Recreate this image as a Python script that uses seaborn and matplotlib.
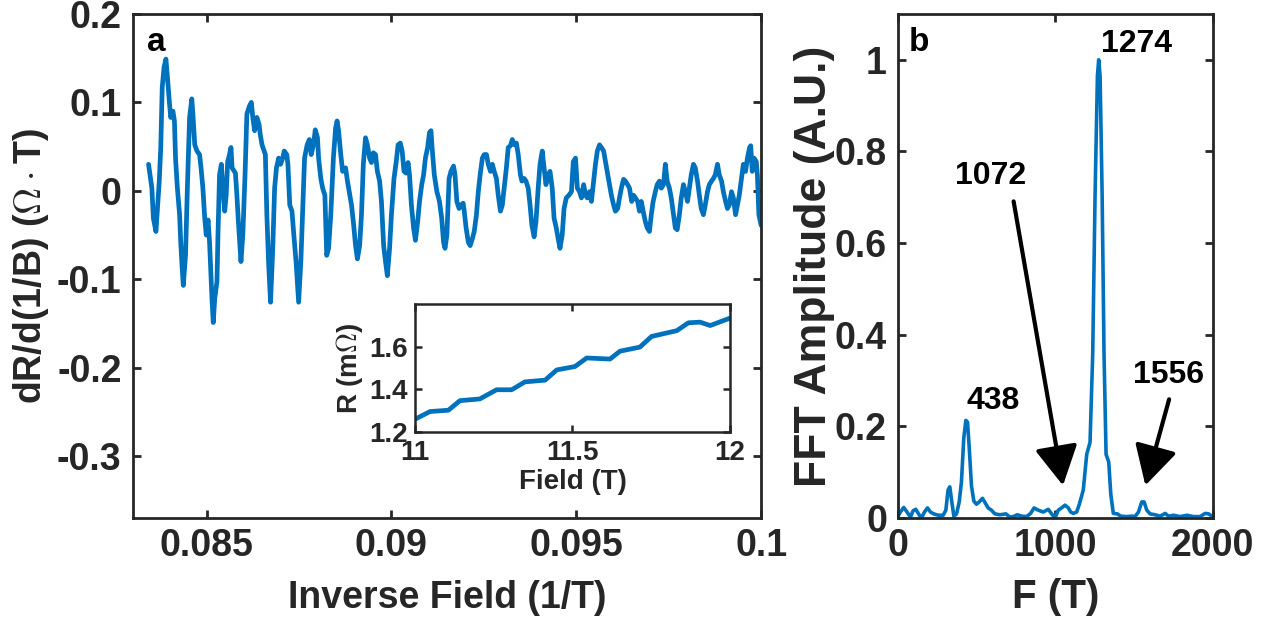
import matplotlib
matplotlib.use("Agg")
import matplotlib.pyplot as plt
from matplotlib.ticker import FuncFormatter
import numpy as np
import pandas as pd
import seaborn as sns

# ---------------- data ----------------
inv_field = [
    0.08343, 0.08352, 0.08356, 0.08363, 0.08367, 0.08372, 0.08376, 0.08380, 0.08385, 0.08390,
    0.08394, 0.08399, 0.08403, 0.08409, 0.08413, 0.08416, 0.08421, 0.08427, 0.08430, 0.08434,
    0.08437, 0.08443, 0.08448, 0.08454, 0.08460, 0.08463, 0.08468, 0.08474, 0.08481, 0.08485,
    0.08490, 0.08495, 0.08499, 0.08504, 0.08508, 0.08512, 0.08515, 0.08518, 0.08522, 0.08528,
    0.08531, 0.08535, 0.08540, 0.08544, 0.08549, 0.08553, 0.08557, 0.08562, 0.08566, 0.08569,
    0.08578, 0.08582, 0.08586, 0.08593, 0.08598, 0.08604, 0.08609, 0.08616, 0.08621, 0.08625,
    0.08630, 0.08636, 0.08642, 0.08645, 0.08650, 0.08659,
    0.08663, 0.08668, 0.08673, 0.08679, 0.08684, 0.08689, 0.08695, 0.08700, 0.08706, 0.08710,
    0.08717, 0.08720, 0.08725, 0.08731, 0.08736, 0.08742, 0.08749, 0.08755, 0.08760, 0.08765,
    0.08772, 0.08778, 0.08783, 0.08789, 0.08794, 0.08800, 0.08803, 0.08809, 0.08814, 0.08820,
    0.08825, 0.08830, 0.08836, 0.08843, 0.08849, 0.08853, 0.08857, 0.08863, 0.08868, 0.08876,
    0.08881, 0.08886, 0.08892, 0.08897, 0.08903, 0.08908, 0.08914, 0.08919, 0.08924, 0.08930,
    0.08935, 0.08941, 0.08946, 0.08951, 0.08957, 0.08962, 0.08968, 0.08973, 0.08979, 0.08984,
    0.08989, 0.08995, 0.09000,
    0.09007, 0.09013, 0.09018, 0.09024, 0.09029, 0.09034, 0.09040, 0.09045, 0.09049, 0.09054,
    0.09060, 0.09065, 0.09071, 0.09076, 0.09082, 0.09087, 0.09092, 0.09098, 0.09103, 0.09107,
    0.09110, 0.09116, 0.09123, 0.09130, 0.09136, 0.09141, 0.09145, 0.09150, 0.09156, 0.09161,
    0.09168, 0.09172, 0.09177, 0.09183, 0.09188, 0.09194, 0.09197, 0.09202, 0.09208, 0.09213,
    0.09219, 0.09224, 0.09230, 0.09235, 0.09240, 0.09246, 0.09251, 0.09257, 0.09262, 0.09268,
    0.09273, 0.09278, 0.09284, 0.09289, 0.09295, 0.09300, 0.09305, 0.09311, 0.09316, 0.09322,
    0.09327, 0.09333, 0.09338, 0.09343, 0.09349,
    0.09353, 0.09359, 0.09364, 0.09370, 0.09375, 0.09380, 0.09386, 0.09391, 0.09397, 0.09402,
    0.09408, 0.09413, 0.09418, 0.09424, 0.09429, 0.09435, 0.09440, 0.09446, 0.09451, 0.09456,
    0.09462, 0.09467, 0.09473, 0.09480, 0.09487, 0.09492, 0.09498, 0.09503, 0.09509, 0.09514,
    0.09520, 0.09525, 0.09530, 0.09536, 0.09541, 0.09547, 0.09552, 0.09557, 0.09563, 0.09568,
    0.09574, 0.09579, 0.09585, 0.09590, 0.09595, 0.09601, 0.09606, 0.09612, 0.09617, 0.09622,
    0.09628, 0.09633, 0.09639, 0.09644, 0.09650, 0.09655, 0.09660, 0.09666, 0.09671,
    0.09676, 0.09681, 0.09687, 0.09692, 0.09698, 0.09703, 0.09708, 0.09714, 0.09719, 0.09725,
    0.09730, 0.09736, 0.09741, 0.09746, 0.09752, 0.09757, 0.09763, 0.09768, 0.09773, 0.09779,
    0.09784, 0.09790, 0.09795, 0.09801, 0.09806, 0.09811, 0.09817, 0.09822, 0.09828, 0.09833,
    0.09838, 0.09844, 0.09849, 0.09855, 0.09860, 0.09866, 0.09871, 0.09876, 0.09882, 0.09887,
    0.09893, 0.09898, 0.09904, 0.09909, 0.09914, 0.09920, 0.09925, 0.09931, 0.09936, 0.09941,
    0.09947, 0.09952, 0.09958, 0.09963, 0.09969, 0.09972, 0.09976, 0.09981, 0.09987, 0.09990,
    0.09994, 0.09998, 0.10000,
]
dR_dinvB = [
    0.030, 0.003, -0.031, -0.046, -0.020, 0.011, 0.049, 0.117, 0.140, 0.149,
    0.129, 0.102, 0.083, 0.090, 0.079, 0.037, 0.003, -0.027, -0.058, -0.088,
    -0.107, -0.073, 0.003, 0.083, 0.104, 0.087, 0.052, 0.045, 0.041, 0.026,
    0.003, -0.031, -0.050, -0.033, -0.058, -0.096, -0.126, -0.149, -0.122, -0.103,
    -0.046, 0.018, 0.030, 0.003, -0.023, -0.005, 0.033, 0.041, 0.049, 0.026,
    0.020, -0.005, -0.035, -0.080, -0.050, 0.018, 0.087, 0.096, 0.100, 0.083,
    0.068, 0.083, 0.075, 0.064, 0.052, 0.041,
    -0.027, -0.084, -0.126, -0.065, 0.003, 0.026, 0.037, 0.030, 0.037, 0.045,
    0.041, 0.030, -0.016, -0.023, -0.050, -0.080, -0.126, -0.080, -0.020, 0.037,
    0.052, 0.058, 0.041, 0.052, 0.069, 0.060, 0.037, 0.014, 0.003, -0.005,
    -0.073, -0.065, -0.027, 0.037, 0.071, 0.079, 0.068, 0.041, 0.022, 0.026,
    0.011, -0.001, -0.016, -0.035, -0.062, -0.077, -0.062, -0.027, 0.030, 0.060,
    0.052, 0.037, 0.032, 0.043, 0.041, 0.022, 0.011, -0.012, -0.062, -0.080,
    -0.096, -0.065, -0.027,
    0.014, 0.033, 0.052, 0.054, 0.045, 0.022, 0.020, 0.032, 0.018, -0.016,
    -0.042, -0.056, -0.035, -0.012, 0.007, 0.018, 0.037, 0.049, 0.066, 0.068,
    0.049, 0.018, -0.001, -0.012, -0.031, -0.058, -0.065, -0.050, 0.014, 0.022,
    0.028, 0.018, -0.012, -0.020, -0.016, -0.014, -0.023, -0.042, -0.058, -0.062,
    -0.054, -0.046, -0.027, -0.001, 0.018, 0.037, 0.041, 0.041, 0.030, 0.022,
    0.030, 0.022, 0.014, -0.005, -0.023, -0.016, 0.003, 0.026, 0.049, 0.051,
    0.058, 0.052, 0.054, 0.041, 0.018,
    0.011, 0.014, 0.011, 0.003, -0.016, -0.039, -0.052, -0.035, 0.003, 0.030,
    0.045, 0.026, 0.007, 0.018, 0.022, 0.003, -0.031, -0.042, -0.054, -0.065,
    -0.050, -0.020, -0.008, -0.005, -0.001, 0.033, 0.037, 0.003, -0.001, -0.008,
    0.007, -0.005, -0.008, -0.001, -0.012, 0.011, 0.030, 0.045, 0.052, 0.049,
    0.045, 0.033, 0.018, 0.007, -0.005, -0.016, -0.023, -0.020, -0.008, 0.003,
    0.013, 0.011, 0.007, 0.003, -0.012, -0.005, -0.008, -0.012, -0.023,
    -0.012, -0.023, -0.035, -0.042, -0.046, -0.027, -0.012, -0.001, 0.007, 0.011,
    0.003, 0.007, 0.030, 0.011, 0.003, -0.008, -0.027, -0.042, -0.044, -0.027,
    -0.008, 0.007, -0.001, -0.012, 0.003, 0.018, 0.030, 0.026, 0.011, -0.005,
    -0.020, -0.027, -0.016, -0.001, 0.007, 0.011, 0.014, 0.018, 0.030, 0.018,
    0.011, -0.001, -0.012, -0.020, -0.016, -0.001, -0.008, -0.027, -0.016, -0.005,
    0.014, 0.030, 0.022, 0.037, 0.049, 0.051, 0.022, 0.037, 0.033, 0.018,
    -0.027, -0.035, -0.039,
]

field_T = [11.003, 11.048, 11.106, 11.143, 11.206, 11.259, 11.307, 11.349, 11.413, 11.450,
           11.508, 11.545, 11.619, 11.651, 11.714, 11.751, 11.831, 11.868, 11.905, 11.937, 12.0]
R_mOhm = [1.262, 1.296, 1.302, 1.347, 1.355, 1.398, 1.398, 1.435, 1.443, 1.491,
          1.507, 1.547, 1.542, 1.579, 1.598, 1.648, 1.675, 1.712, 1.715, 1.699, 1.734]

freq_T = [0, 15, 36, 57, 79, 96, 113, 130, 149, 168,
          187, 206, 227, 255, 287, 304, 318, 329, 342, 355,
          372, 389, 403, 418, 431, 442, 452, 467, 482, 499,
          516, 537, 554, 573, 594, 616, 648, 686, 711, 732,
          758, 786, 817, 843, 865, 892, 924, 955, 977, 998,
          1019, 1040, 1062, 1083, 1098, 1115, 1136, 1153, 1178, 1200,
          1221, 1238, 1253, 1268, 1276, 1285, 1298, 1310, 1323, 1340,
          1353, 1369, 1395, 1416, 1454, 1486, 1507, 1529, 1550, 1565,
          1582, 1603, 1635, 1667, 1699, 1720, 1752, 1794, 1837, 1879,
          1921, 1953, 1975, 2000]
fft_amp = [0.004, 0.013, 0.023, 0.013, 0.002, 0.016, 0.019, 0.009, 0.0, 0.013,
           0.022, 0.013, 0.009, 0.006, 0.006, 0.017, 0.061, 0.068, 0.035, 0.004,
           0.009, 0.035, 0.078, 0.174, 0.213, 0.209, 0.157, 0.070, 0.037, 0.030,
           0.035, 0.043, 0.033, 0.022, 0.017, 0.009, 0.007, 0.009, 0.002, 0.003,
           0.007, 0.004, 0.003, 0.010, 0.022, 0.017, 0.013, 0.019, 0.009, 0.0,
           0.017, 0.022, 0.028, 0.022, 0.013, 0.010, 0.013, 0.030, 0.061, 0.139,
           0.165, 0.357, 0.704, 0.965, 1.0, 0.965, 0.704, 0.357, 0.139, 0.122,
           0.052, 0.010, 0.009, 0.004, 0.003, 0.004, 0.003, 0.013, 0.035, 0.035,
           0.017, 0.009, 0.007, 0.004, 0.010, 0.004, 0.006, 0.003, 0.006, 0.003,
           0.003, 0.010, 0.009, 0.003]

peak_labels = ["438", "1072", "1274", "1556"]

# ---------------- style ----------------
sns.set_style("ticks")
plt.rcParams["font.family"] = ["Liberation Sans", "DejaVu Sans"]
plt.rcParams["font.weight"] = "bold"
plt.rcParams["axes.labelweight"] = "bold"
plt.rcParams["mathtext.fontset"] = "cm"
plt.rcParams["axes.unicode_minus"] = False
plt.rcParams["lines.solid_joinstyle"] = "round"

BLUE = "#0072BD"
AXC = "#262626"
fmt = FuncFormatter(lambda v, p: f"{v:g}")


def style_axes(ax, size, xpad, ypad, lw=2.0, tlen=6):
    for s in ax.spines.values():
        s.set_visible(True)
        s.set_linewidth(lw)
        s.set_color(AXC)
    ax.tick_params(direction="in", top=True, right=True, length=tlen, width=lw,
                   labelsize=size, colors=AXC)
    ax.tick_params(axis="x", pad=xpad)
    ax.tick_params(axis="y", pad=ypad)
    for t in ax.get_xticklabels() + ax.get_yticklabels():
        t.set_fontweight("bold")
    ax.xaxis.set_major_formatter(fmt)
    ax.yaxis.set_major_formatter(fmt)


fig = plt.figure(figsize=(12.67, 6.24), dpi=100)
axA = fig.add_axes([0.1047, 0.1699, 0.4960, 0.8077])
axB = fig.add_axes([0.7088, 0.1699, 0.2482, 0.8077])
axI = fig.add_axes([0.3275, 0.3077, 0.2487, 0.2051])

# ---- panel a ----
dfA = pd.DataFrame({"x": inv_field, "y": dR_dinvB})
sns.lineplot(data=dfA, x="x", y="y", ax=axA, color=BLUE, lw=3.4,
             estimator=None, sort=False)
axA.set_xlim(0.083, 0.1)
axA.set_ylim(-0.37, 0.2)
axA.set_xticks([0.085, 0.09, 0.095, 0.1])
axA.set_yticks([-0.3, -0.2, -0.1, 0, 0.1, 0.2])
style_axes(axA, 27, 7, 8)
axA.set_xlabel("Inverse Field (1/T)", fontsize=27, color=AXC, labelpad=12)
axA.set_ylabel(r"dR/d(1/B) ($\Omega\cdot$T)", fontsize=27, color=AXC, labelpad=4)
axA.text(0.0834, 0.168, "a", fontsize=24, fontweight="bold", color="black",
         ha="left", va="center")

# ---- inset ----
dfI = pd.DataFrame({"B": field_T, "R": R_mOhm})
sns.lineplot(data=dfI, x="B", y="R", ax=axI, color=BLUE, lw=3.4,
             estimator=None, sort=False)
axI.set_xlim(11, 12)
axI.set_ylim(1.2, 1.8)
axI.set_xticks([11, 11.5, 12])
axI.set_yticks([1.2, 1.4, 1.6])
style_axes(axI, 20, 6, 5, lw=1.8, tlen=5)
axI.set_xlabel("Field (T)", fontsize=20, color=AXC, labelpad=2)
axI.set_ylabel(r"R (m$\Omega$)", fontsize=20, color=AXC, labelpad=3)

# ---- panel b ----
dfB = pd.DataFrame({"F": freq_T, "A": fft_amp})
sns.lineplot(data=dfB, x="F", y="A", ax=axB, color=BLUE, lw=2.6,
             estimator=None, sort=False)
axB.set_xlim(0, 2000)
axB.set_ylim(0, 1.1)
axB.set_xticks([0, 1000, 2000])
axB.set_yticks([0, 0.2, 0.4, 0.6, 0.8, 1])
style_axes(axB, 27, 7, 8)
axB.set_xlabel("F (T)", fontsize=29, color=AXC, labelpad=10)
axB.set_ylabel("FFT Amplitude (A.U.)", fontsize=32, color=AXC, labelpad=0)
axB.text(134, 1.037, "b", fontsize=24, fontweight="bold", color="black",
         ha="center", va="center")

tkw = dict(fontsize=23, fontweight="bold", color="black", ha="center", va="center")
axB.text(603, 0.255, peak_labels[0], **tkw)
axB.text(589, 0.747, peak_labels[1], **tkw)
axB.text(1518, 1.035, peak_labels[2], **tkw)
axB.text(1720, 0.312, peak_labels[3], **tkw)

akw = dict(arrowstyle="-|>,head_length=1.1,head_width=0.6", color="black",
           lw=3, mutation_scale=22, shrinkA=0, shrinkB=0)
axB.annotate("", xy=(1049, 0.071), xytext=(735, 0.691), arrowprops=akw)
axB.annotate("", xy=(1573, 0.071), xytext=(1724, 0.259), arrowprops=akw)

fig.savefig("out.png", dpi=100)
